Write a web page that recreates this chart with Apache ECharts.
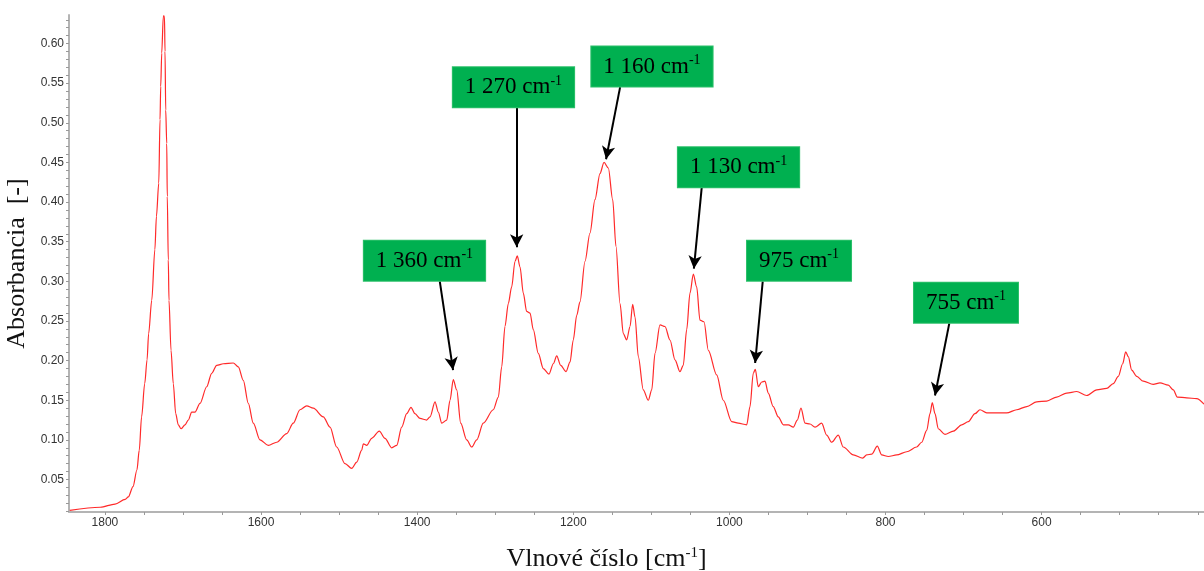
<!DOCTYPE html>
<html lang="sk">
<head>
<meta charset="utf-8">
<title>FTIR spektrum</title>
<script src="https://cdn.jsdelivr.net/npm/echarts@6/dist/echarts.min.js"></script>
<style>
  html, body { margin: 0; padding: 0; background: #ffffff; }
  #chart { width: 1204px; height: 571px; }
</style>
</head>
<body>
<div id="chart"></div>
<script>
// Spectrum: wavenumber [cm-1] and absorbance [-]
const wavenumber = [1845,1806,1787,1774,1770,1764,1759,1756,1753,1749,
  1746,1744,1740,1736,1734,1731,1729.4,1728.5,1727.2,1725.2,
  1724.7,1723.7,1723.0,1722.1,1720.8,1720.1,1718.8,1717.9,1715.3,1712.4,
  1709.3,1706.0,1702.5,1697.4,1693.2,1688.8,1684.6,1678.2,1669.6,1663.2,
  1656.8,1648.3,1635.5,1629.1,1622.7,1616.3,1609.9,1601.3,1590.7,1579.9,
  1567.1,1558.7,1550.1,1541.5,1533.0,1520.2,1511.6,1503.1,1492.4,1483.8,
  1477.4,1471.0,1469.0,1464.6,1458.2,1448.5,1441.2,1432.6,1426.2,1419.8,
  1413.4,1407.9,1402.8,1396.3,1387.8,1383.5,1377.1,1372.9,1368.5,1362.1,
  1357.9,1353.7,1349.3,1344.2,1336.5,1330.1,1323.7,1315.3,1302.5,1296.0,
  1291.7,1287.5,1283.2,1278.9,1274.7,1271.7,1268.2,1264.0,1259.7,1255.4,
  1251.2,1244.8,1238.4,1231.1,1225.6,1221.2,1216.1,1209.3,1204.2,1200.0,
  1195.6,1191.4,1185.0,1178.6,1172.2,1165.8,1160.6,1155.1,1149.5,1145.3,
  1140.1,1135.9,1131.6,1127.3,1123.9,1120.9,1116.7,1110.3,1103.9,1099.5,
  1095.3,1088.9,1082.5,1076.1,1069.7,1063.3,1059.1,1054.7,1050.5,1046.2,
  1041.9,1037.7,1032.5,1027.0,1016.3,1007.8,997.1,988.6,977.8,973.6,
  969.4,966.8,963.0,958.6,954.4,950.2,943.8,937.4,930.9,924.5,
  918.1,913.0,908.3,903.1,896.7,890.3,881.8,875.4,868.9,860.5,
  854.1,841.3,829.2,824.1,817.7,810.5,804.9,796.4,785.7,772.9,
  760.1,753.7,747.2,743.0,740.1,736.6,732.4,723.8,713.2,702.4,
  693.9,685.4,679.0,670.4,659.7,644.8,632.0,619.1,606.3,593.5,
  580.7,567.9,555.1,542.3,529.5,516.7,508.2,501.8,496.2,492.3,
  489.0,484.6,478.2,469.8,457.0,448.4,437.7,431.3,426.2,414.2,
  401.4,392.0];

const absorbance = [0.011,0.015,0.019,0.025,0.028,0.041,0.062,0.087,0.129,0.171,
  0.201,0.234,0.276,0.340,0.382,0.424,0.504,0.546,0.588,0.634,
  0.635,0.634,0.590,0.516,0.474,0.407,0.327,0.276,0.213,0.171,
  0.133,0.119,0.114,0.119,0.125,0.135,0.135,0.146,0.167,0.184,
  0.194,0.196,0.197,0.192,0.175,0.146,0.121,0.100,0.093,0.097,
  0.108,0.121,0.138,0.143,0.140,0.129,0.116,0.091,0.070,0.064,
  0.072,0.087,0.095,0.093,0.102,0.111,0.102,0.090,0.093,0.116,
  0.133,0.141,0.133,0.127,0.125,0.129,0.148,0.135,0.121,0.125,
  0.150,0.176,0.163,0.121,0.100,0.091,0.100,0.121,0.138,0.154,
  0.192,0.243,0.272,0.293,0.325,0.332,0.318,0.285,0.262,0.260,
  0.239,0.209,0.190,0.183,0.196,0.206,0.194,0.186,0.198,0.226,
  0.257,0.274,0.325,0.361,0.403,0.436,0.450,0.443,0.403,0.344,
  0.272,0.234,0.226,0.243,0.271,0.255,0.205,0.163,0.150,0.163,
  0.209,0.245,0.243,0.226,0.201,0.186,0.194,0.239,0.285,0.309,
  0.293,0.251,0.249,0.213,0.182,0.150,0.123,0.121,0.119,0.142,
  0.184,0.189,0.167,0.173,0.174,0.159,0.142,0.129,0.119,0.119,
  0.116,0.125,0.140,0.121,0.120,0.116,0.121,0.106,0.097,0.106,
  0.091,0.081,0.077,0.081,0.082,0.092,0.081,0.079,0.081,0.085,
  0.091,0.097,0.112,0.133,0.147,0.133,0.114,0.107,0.111,0.119,
  0.123,0.133,0.138,0.134,0.134,0.134,0.138,0.142,0.148,0.149,
  0.154,0.159,0.161,0.156,0.163,0.165,0.171,0.180,0.196,0.211,
  0.205,0.188,0.180,0.174,0.170,0.172,0.169,0.163,0.154,0.153,
  0.152,0.145];

// Tick labels
const xTickLabels = [600, 800, 1000, 1200, 1400, 1600, 1800];
const yTickLabels = [0.05, 0.10, 0.15, 0.20, 0.25, 0.30, 0.35, 0.40, 0.45, 0.50, 0.55, 0.60];

// Band callouts: label text, arrow tip, arrow tail, box centre (wavenumber, absorbance)
const bandLabels = ['1 360', '1 270', '1 160', '1 130', '975', '755'];
const arrowTip = [[1354, 0.188], [1272.5, 0.343], [1158, 0.454], [1045.5, 0.316], [967, 0.197], [736.6, 0.156]];
const arrowTail = [[1371, 0.300], [1272.5, 0.520], [1140, 0.545], [1035.5, 0.418], [957.3, 0.300], [718.3, 0.247]];
const boxCentre = [[1390.6, 0.326], [1276.6, 0.545], [1099.2, 0.571], [988.3, 0.444], [910.8, 0.326], [696.9, 0.273]];

const X_MIN = 392, X_MAX = 1846;
const Y_MIN = 0.009, Y_MAX = 0.636;

const xMinor = [];
for (let v = 400; v <= 1800; v += 50) xMinor.push(v);
const yMinor = [];
for (let k = 1; k <= 63; k++) yMinor.push(+(k / 100).toFixed(2));

const spectrum = wavenumber.map((w, i) => [w, absorbance[i]]);

const serif = 'Liberation Serif, "Times New Roman", serif';
const sans = 'Liberation Sans, Arial, sans-serif';

const chart = echarts.init(document.getElementById('chart'), null, { renderer: 'canvas' });

chart.setOption({
  animation: false,
  backgroundColor: '#ffffff',
  grid: { left: 69, right: 0, top: 15, bottom: 59, containLabel: false, outerBoundsMode: 'none' },
  xAxis: {
    type: 'value',
    inverse: true,
    min: X_MIN,
    max: X_MAX,
    name: 'Vlnové číslo [cm{s|-1}]',
    nameLocation: 'middle',
    nameGap: 34,
    nameTextStyle: {
      fontFamily: serif, fontSize: 26, color: '#111',
      padding: [0, 60, 0, 0],
      rich: { s: { fontFamily: serif, fontSize: 15, color: '#111', verticalAlign: 'top', lineHeight: 16 } }
    },
    axisLine: { show: true, onZero: false, lineStyle: { color: '#b4b4b4', width: 2 } },
    axisTick: { show: true, customValues: xMinor, length: 3, lineStyle: { color: '#999' } },
    axisLabel: {
      customValues: xTickLabels, margin: 5,
      fontFamily: sans, fontSize: 12, color: '#333',
      formatter: v => String(v)
    },
    splitLine: { show: false }
  },
  yAxis: {
    type: 'value',
    min: Y_MIN,
    max: Y_MAX,
    name: 'Absorbancia  [-]',
    nameLocation: 'middle',
    nameGap: 35,
    nameRotate: 90,
    nameTextStyle: { fontFamily: serif, fontSize: 26, color: '#111' },
    axisLine: { show: true, onZero: false, lineStyle: { color: '#b4b4b4', width: 2 } },
    axisTick: { show: true, customValues: yMinor, length: 3, lineStyle: { color: '#999' } },
    axisLabel: {
      customValues: yTickLabels, margin: 5,
      fontFamily: sans, fontSize: 12, color: '#333',
      formatter: v => v.toFixed(2)
    },
    splitLine: { show: false }
  },
  series: [{
    type: 'line',
    data: spectrum,
    showSymbol: false,
    smooth: 0.3,
    smoothMonotone: 'x',
    lineStyle: { color: '#ff2a2a', width: 1.2 },
    emphasis: { disabled: true },
    markLine: {
      silent: true,
      symbol: ['none', 'arrow'],
      symbolSize: [10, 13],
      lineStyle: { color: '#000', width: 2, type: 'solid' },
      label: { show: false },
      emphasis: { disabled: true },
      data: bandLabels.map((t, i) => [{ coord: arrowTail[i] }, { coord: arrowTip[i] }])
    },
    markPoint: {
      silent: true,
      symbol: 'rect',
      symbolSize: 1,
      itemStyle: { color: 'transparent' },
      label: {
        show: true,
        position: 'inside',
        formatter: p => '{n|' + p.name + ' cm}{s|-1}',
        backgroundColor: '#00b050',
        borderColor: '#2cc06a',
        borderWidth: 1,
        padding: [7, 12, 7, 12],
        rich: {
          n: { fontFamily: serif, fontSize: 23, color: '#000', lineHeight: 26 },
          s: { fontFamily: serif, fontSize: 14, color: '#000', lineHeight: 16, verticalAlign: 'top' }
        }
      },
      emphasis: { disabled: true },
      data: bandLabels.map((t, i) => ({ name: t, coord: boxCentre[i] }))
    }
  }]
});
</script>
</body>
</html>
